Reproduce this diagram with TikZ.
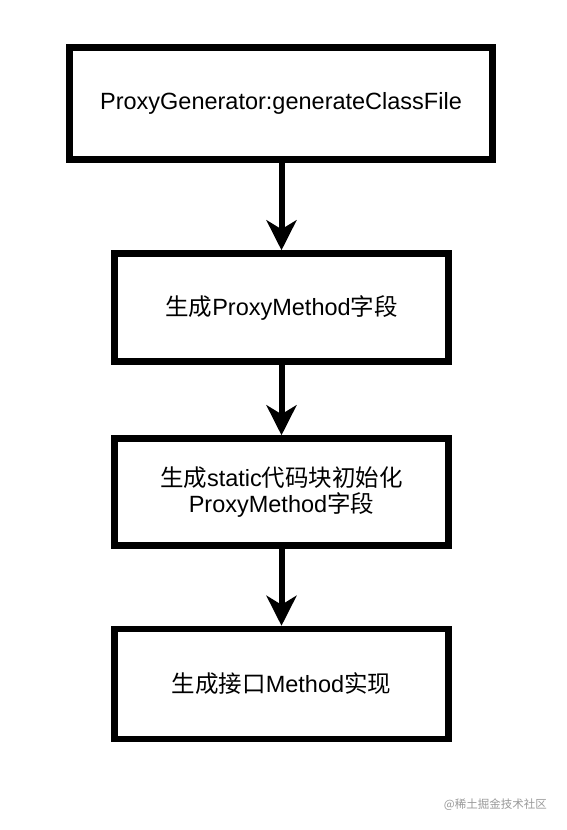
\documentclass[tikz,border=0pt]{standalone}
\usepackage{fontspec}
\setmainfont{Liberation Sans}
\newfontfamily\cjk{Noto Sans CJK SC}
\usetikzlibrary{arrows.meta}
\begin{document}
\begin{tikzpicture}[x=1pt,y=-1pt,
  boxstyle/.style={draw=black,line width=6.5pt,rectangle,inner sep=0pt,align=center,font=\fontsize{23.5}{26.5}\selectfont},
  arrowstyle/.style={line width=6pt,-{Stealth[length=30pt,width=30pt,inset=9pt]}}]
\useasboundingbox (0,0) rectangle (566,830);
\node[boxstyle,minimum width=423pt,minimum height=112pt] (a) at (281,103.5) {ProxyGenerator:generateClassFile};
\node[boxstyle,minimum width=334pt,minimum height=108pt] (b) at (281.5,307.5) {{\cjk 生成}ProxyMethod{\cjk 字段}};
\node[boxstyle,minimum width=334pt,minimum height=107pt] (c) at (281.5,492) {{\cjk 生成}static{\cjk 代码块初始化}\\ProxyMethod{\cjk 字段}};
\node[boxstyle,minimum width=334pt,minimum height=110pt] (d) at (281.5,684) {{\cjk 生成接口}Method{\cjk 实现}};
\draw[arrowstyle] (a.south -| b.north) -- (b.north);
\draw[arrowstyle] (b) -- (c);
\draw[arrowstyle] (c) -- (d);
\node[anchor=east,text=black!40,font=\cjk\fontsize{11.5}{12}\selectfont,inner sep=0pt] (w) at (547,805) {@稀土掘金技术社区};
\end{tikzpicture}
\end{document}
